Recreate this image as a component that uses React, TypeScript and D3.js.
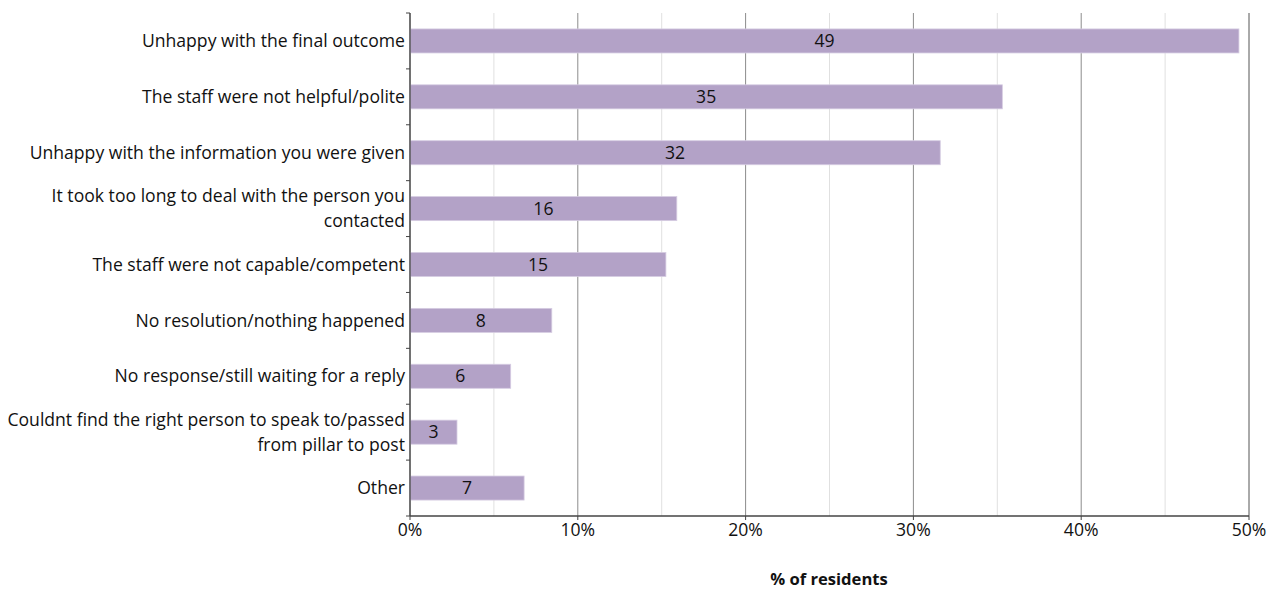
import React from "react";
import * as d3 from "d3";

const categories = [
  "Unhappy with the final outcome",
  "The staff were not helpful/polite",
  "Unhappy with the information you were given",
  "It took too long to deal with the person you\ncontacted",
  "The staff were not capable/competent",
  "No resolution/nothing happened",
  "No response/still waiting for a reply",
  "Couldnt find the right person to speak to/passed\nfrom pillar to post",
  "Other",
];
const values = [49.4, 35.3, 31.6, 15.9, 15.25, 8.45, 6.0, 2.8, 6.8];
const valueLabels = ["49", "35", "32", "16", "15", "8", "6", "3", "7"];
const xTicks = [0, 10, 20, 30, 40, 50];
const minorTicks = [5, 15, 25, 35, 45];
const xTitle = "% of residents";

const W = 1267;
const H = 589;
const FONT = "'Open Sans', 'Liberation Sans', sans-serif";
const FS = 17.6;

export default function App() {
  const left = 410;
  const right = 1249;
  const top = 13;
  const bottom = 516;
  const x = d3.scaleLinear().domain([0, 50]).range([left, right]);
  const y = d3.scaleBand<string>().domain(categories).range([top, bottom]).paddingInner(0.57).paddingOuter(0.285);
  const yOuter = d3.scaleBand<string>().domain(categories).range([top, bottom]);

  return (
    <svg width={W} height={H} style={{ position: "absolute", left: 0, top: 0, background: "#fff" }}>
      {minorTicks.map((t) => (
        <line key={"m" + t} x1={x(t)} x2={x(t)} y1={top} y2={bottom} stroke="#e0e0e0" strokeWidth={1} />
      ))}
      {xTicks.map((t) => (
        <line key={"g" + t} x1={x(t)} x2={x(t)} y1={top} y2={bottom} stroke={t === 50 ? "#555" : "#8c8c8c"} strokeWidth={1} />
      ))}
      {categories.map((c, i) => (
        <g key={c}>
          <rect
            x={x(0)}
            y={y(c)}
            width={x(values[i]) - x(0)}
            height={y.bandwidth()}
            fill="#b3a2c7"
            stroke="#d6cce2"
            strokeWidth={0.8}
          />
          <text
            x={(x(0) + x(values[i])) / 2}
            y={(y(c) as number) + y.bandwidth() / 2}
            dy="0.35em"
            textAnchor="middle"
            fontFamily={FONT}
            fontSize={FS}
            fill="#111"
          >
            {valueLabels[i]}
          </text>
          {(() => {
            const lines = c.split("\n");
            const cy = (yOuter(c) as number) + yOuter.bandwidth() / 2;
            const lh = 25;
            return lines.map((ln, k) => (
              <text
                key={k}
                x={left - 5}
                y={cy + (k - (lines.length - 1) / 2) * lh}
                dy="0.35em"
                textAnchor="end"
                fontFamily={FONT}
                fontSize={FS}
                fill="#111"
              >
                {ln}
              </text>
            ));
          })()}
        </g>
      ))}
      {/* y axis */}
      <line x1={left} x2={left} y1={top} y2={bottom} stroke="#444" strokeWidth={1.3} />
      {d3.range(categories.length + 1).map((i) => {
        const yy = top + i * yOuter.step();
        return <line key={"yt" + i} x1={left - 4} x2={left} y1={yy} y2={yy} stroke="#444" strokeWidth={1} />;
      })}
      {/* x axis */}
      <line x1={left} x2={right} y1={bottom} y2={bottom} stroke="#444" strokeWidth={1.3} />
      {xTicks.map((t) => (
        <g key={"xt" + t}>
          <line x1={x(t)} x2={x(t)} y1={bottom} y2={bottom + 4} stroke="#444" strokeWidth={1} />
          <text x={x(t)} y={bottom + 14} dy="0.35em" textAnchor="middle" fontFamily={FONT} fontSize={FS} fill="#111">
            {t + "%"}
          </text>
        </g>
      ))}
      <text x={829} y={579} dy="0.35em" textAnchor="middle" fontFamily={FONT} fontSize={16.6} fontWeight="bold" fill="#111">
        {xTitle}
      </text>
    </svg>
  );
}
